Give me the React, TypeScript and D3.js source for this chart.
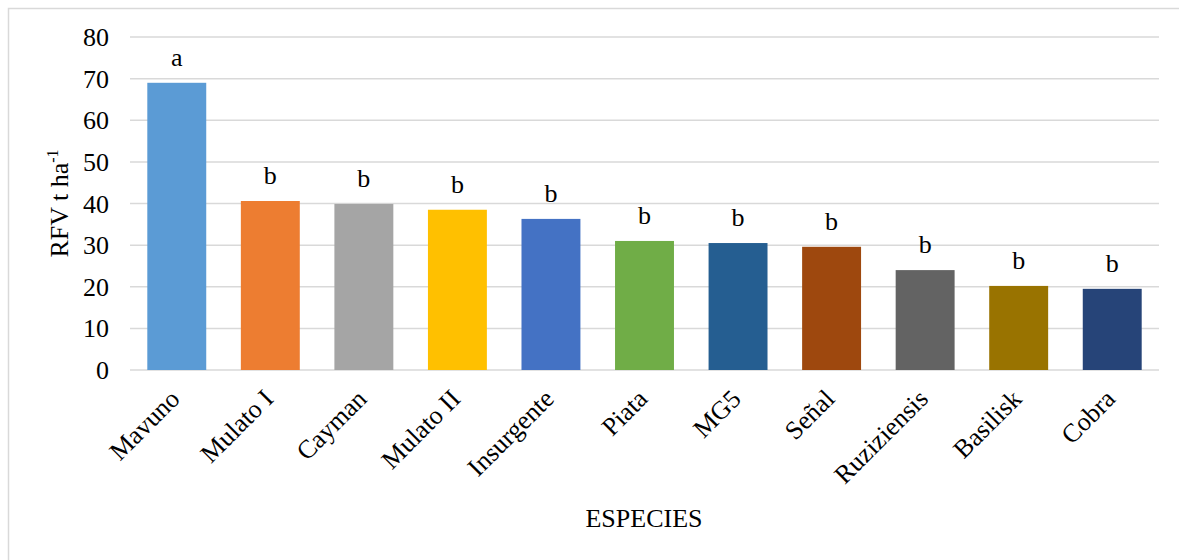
import React from "react";
import * as d3 from "d3";

const categories = ["Mavuno", "Mulato I", "Cayman", "Mulato II", "Insurgente", "Piata", "MG5", "Señal", "Ruziziensis", "Basilisk", "Cobra"];
const values = [69.0, 40.6, 39.9, 38.5, 36.3, 31.0, 30.5, 29.6, 24.0, 20.2, 19.5];
const letters = ["a", "b", "b", "b", "b", "b", "b", "b", "b", "b", "b"];
const colors = ["#5B9BD5", "#ED7D31", "#A5A5A5", "#FFC000", "#4472C4", "#70AD47", "#255E91", "#9E480E", "#636363", "#997300", "#264478"];
const yTicks = [0, 10, 20, 30, 40, 50, 60, 70, 80];

const W = 1179;
const H = 560;
const left = 130;
const right = 1159;
const top = 37;
const bottom = 370;
const FONT = "'Liberation Serif', 'Times New Roman', serif";

export default function App() {
  const x = d3.scaleBand<string>().domain(categories).range([left, right]).paddingInner(0.37).paddingOuter(0.185);
  const y = d3.scaleLinear().domain([0, 80]).range([bottom, top]);

  return (
    <svg width={W} height={H} style={{ position: "absolute", left: 0, top: 0, background: "#fff", fontFamily: FONT }}>
      <rect x={0} y={0} width={W} height={H} fill="#fff" />
      <rect x={8.5} y={8.5} width={W + 20} height={H + 20} fill="none" stroke="#d9d9d9" strokeWidth={1.5} />
      {yTicks.map((t) => (
        <g key={t}>
          <line x1={left} x2={right} y1={y(t)} y2={y(t)} stroke="#d9d9d9" strokeWidth={1.5} />
          <text x={109} y={y(t)} dy="0.35em" textAnchor="end" fontSize={26} fill="#000">
            {t}
          </text>
        </g>
      ))}
      {categories.map((c, i) => (
        <g key={c}>
          <rect x={x(c)} y={y(values[i])} width={x.bandwidth()} height={y(0) - y(values[i])} fill={colors[i]} />
          <text x={(x(c) as number) + x.bandwidth() / 2} y={y(values[i]) - 17} textAnchor="middle" fontSize={26} fill="#000">
            {letters[i]}
          </text>
          <text
            transform={`translate(${(x(c) as number) + x.bandwidth() / 2 - 2},${bottom + 24}) rotate(-45)`}
            textAnchor="end"
            dy="0.35em"
            fontSize={26}
            fill="#000"
          >
            {c}
          </text>
        </g>
      ))}
      <text transform={`translate(68,${(top + bottom) / 2}) rotate(-90)`} textAnchor="middle" fontSize={26} fill="#000">
        RFV t ha<tspan dy={-10} fontSize={16}>-1</tspan>
      </text>
      <text x={644} y={527} textAnchor="middle" fontSize={26} fill="#000">
        ESPECIES
      </text>
    </svg>
  );
}
